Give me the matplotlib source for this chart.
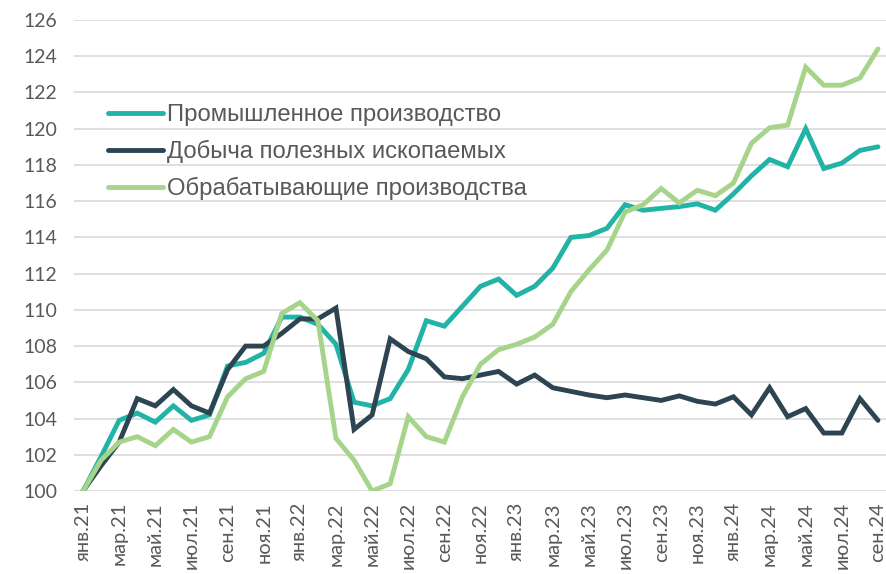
import matplotlib.pyplot as plt

months = ['янв', 'фев', 'мар', 'апр', 'май', 'июн', 'июл', 'авг', 'сен', 'окт', 'ноя', 'дек']
dates = [f'{m}.{y}' for y in ('21', '22', '23', '24') for m in months][:45]

industry = [100.0, 101.9, 103.9, 104.3, 103.8, 104.7, 103.9, 104.2, 106.9, 107.1, 107.6, 109.6,
            109.6, 109.2, 108.1, 104.9, 104.7, 105.1, 106.7, 109.4, 109.1, 110.2, 111.3, 111.7,
            110.8, 111.3, 112.3, 114.0, 114.1, 114.5, 115.8, 115.5, 115.6, 115.7, 115.85, 115.5,
            116.4, 117.4, 118.3, 117.9, 120.0, 117.8, 118.1, 118.8, 119.0]
mining = [100.0, 101.4, 102.7, 105.1, 104.7, 105.6, 104.7, 104.3, 106.7, 108.0, 108.0, 108.7,
          109.5, 109.5, 110.1, 103.4, 104.2, 108.4, 107.7, 107.3, 106.3, 106.2, 106.4, 106.6,
          105.9, 106.4, 105.7, 105.5, 105.3, 105.15, 105.3, 105.15, 105.0, 105.25, 104.95, 104.8,
          105.2, 104.2, 105.7, 104.1, 104.55, 103.2, 103.2, 105.1, 103.9]
manufacturing = [100.0, 101.7, 102.7, 103.0, 102.5, 103.4, 102.7, 103.0, 105.2, 106.2, 106.6, 109.8,
                 110.4, 109.4, 102.9, 101.7, 100.0, 100.4, 104.1, 103.0, 102.7, 105.2, 107.0, 107.8,
                 108.1, 108.5, 109.2, 111.0, 112.2, 113.3, 115.4, 115.8, 116.7, 115.9, 116.6, 116.3,
                 117.0, 119.2, 120.05, 120.2, 123.4, 122.4, 122.4, 122.8, 124.4]

series = [
    ('Промышленное производство', industry, '#21B3A6'),
    ('Добыча полезных ископаемых', mining, '#2D4552'),
    ('Обрабатывающие производства', manufacturing, '#A6D48B'),
]

fig = plt.figure(figsize=(8.87, 5.74), dpi=100)
ax = fig.add_axes([74 / 887, 83 / 574, 813 / 887, 471 / 574])

x = list(range(len(dates)))
for name, vals, color in series:
    ax.plot(x, vals, color=color, lw=3.5, label=name, solid_joinstyle='miter',
            solid_capstyle='round', zorder=3)

ax.set_ylim(100, 126)
ax.set_xlim(-0.5, len(dates) - 0.5)
ax.set_yticks(range(100, 127, 2))
ax.set_xticks(x[::2])
ax.set_xticklabels(dates[::2], rotation=90)
for lab in ax.get_xticklabels() + ax.get_yticklabels():
    lab.set_fontfamily('Lato')
ax.tick_params(axis='both', length=0, labelsize=14, colors='#595959')
ax.tick_params(axis='x', labelsize=14.5, pad=8)
ax.tick_params(axis='y', pad=12)

ax.grid(axis='y', color='#D9D9D9', lw=1.2, zorder=0)
for s in ax.spines.values():
    s.set_visible(False)

leg = ax.legend(loc='upper left', bbox_to_anchor=(0.042, 0.821), frameon=False,
                borderaxespad=0, borderpad=0,
                prop={'family': 'Liberation Sans', 'size': 17.2},
                handlelength=2.3, labelspacing=0.58, handletextpad=0.18)
for t in leg.get_texts():
    t.set_color('#595959')

fig.savefig('out.png', dpi=100)
